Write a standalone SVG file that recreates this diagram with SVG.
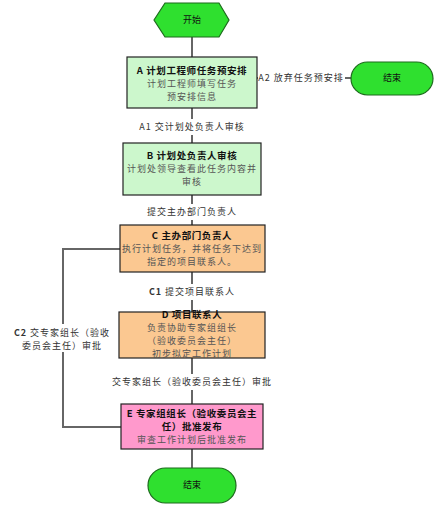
<svg xmlns="http://www.w3.org/2000/svg" width="439" height="509" viewBox="0 0 439 509">
<style>
text{font-family:"Noto Sans CJK SC","Noto Sans",sans-serif;text-anchor:middle;font-size:9px;letter-spacing:1px;fill:#333}
.t{font-weight:bold;fill:#111;font-size:9.5px;letter-spacing:0.6px}
.b{fill:#555}
.term{fill:#2fe02f;stroke:#1d6b1d;stroke-width:1.2}
.tt{font-size:9px;fill:#111;letter-spacing:0}
.box{stroke:#222;stroke-width:1.2}
.g{fill:#ccf7cc}.o{fill:#fbc891}.p{fill:#ff99cc}
.c{stroke:#666;stroke-width:2;fill:none}
.lb{fill:#fff}
</style>
<rect width="439" height="509" fill="#fff"/>
<g id="connectors">
<line class="c" x1="192" y1="37" x2="192" y2="57"/>
<line class="c" x1="192" y1="108" x2="192" y2="143"/>
<line class="c" x1="257" y1="78" x2="351" y2="78"/>
<line class="c" x1="192" y1="195" x2="192" y2="225"/>
<line class="c" x1="192" y1="272" x2="192" y2="312"/>
<line class="c" x1="192" y1="358" x2="192" y2="404"/>
<line class="c" x1="192" y1="449" x2="192" y2="468"/>
<polyline class="c" points="120,249 63,249 63,427 121,427" stroke="#444"/>
<rect class="lb" x="258" y="70" width="87" height="16"/>
<text x="301" y="81">A2 放弃任务预安排</text>
<rect class="lb" x="136" y="119" width="112" height="16"/>
<text x="192" y="130">A1 交计划处负责人审核</text>
<rect class="lb" x="142" y="204" width="100" height="16"/>
<text x="192" y="215">提交主办部门负责人</text>
<rect class="lb" x="146" y="284" width="92" height="16"/>
<text x="192" y="295"><tspan font-weight="bold">C1</tspan> 提交项目联系人</text>
<rect class="lb" x="110" y="374" width="164" height="16"/>
<text x="192" y="385">交专家组长（验收委员会主任）审批</text>
<rect class="lb" x="14" y="324" width="98" height="28"/>
<text x="62" y="336"><tspan font-weight="bold">C2</tspan> 交专家组长（验收</text>
<text x="62" y="349">委员会主任）审批</text>
</g>
<g id="start">
<polygon class="term" points="154,20 165,3 219,3 229,20 219,37 165,37"/>
<text class="tt" x="192" y="23">开始</text>
</g>
<g id="nodeA">
<rect class="box g" x="127" y="57" width="130" height="51"/>
<text class="t" x="192" y="74">A 计划工程师任务预安排</text>
<text class="b" x="192" y="87">计划工程师填写任务</text>
<text class="b" x="192" y="100">预安排信息</text>
</g>
<g id="end1">
<rect class="term" x="351" y="62" width="82" height="33" rx="16.5"/>
<text class="tt" x="392" y="81">结束</text>
</g>
<g id="nodeB">
<rect class="box g" x="123" y="143" width="138" height="52"/>
<text class="t" x="192" y="159">B 计划处负责人审核</text>
<text class="b" x="192" y="172">计划处领导查看此任务内容并</text>
<text class="b" x="192" y="185">审核</text>
</g>
<g id="nodeC">
<rect class="box o" x="120" y="225" width="145" height="47"/>
<text class="t" x="192" y="239">C 主办部门负责人</text>
<text class="b" x="192" y="252">执行计划任务，并将任务下达到</text>
<text class="b" x="192" y="265">指定的项目联系人。</text>
</g>
<g id="nodeD">
<rect class="box o" x="119" y="312" width="146" height="46"/>
<text class="t" x="192" y="318">D 项目联系人</text>
<text class="b" x="192" y="331">负责协助专家组组长</text>
<text class="b" x="192" y="344">（验收委员会主任）</text>
<text class="b" x="192" y="357">初步拟定工作计划</text>
</g>
<g id="nodeE">
<rect class="box p" x="121" y="404" width="142" height="45"/>
<text class="t" x="192" y="417">E 专家组组长（验收委员会主</text>
<text class="t" x="192" y="430">任）批准发布</text>
<text class="b" x="192" y="443">审查工作计划后批准发布</text>
</g>
<g id="end2">
<rect class="term" x="148" y="468" width="88" height="35" rx="17.5"/>
<text class="tt" x="192" y="488">结束</text>
</g>
</svg>
